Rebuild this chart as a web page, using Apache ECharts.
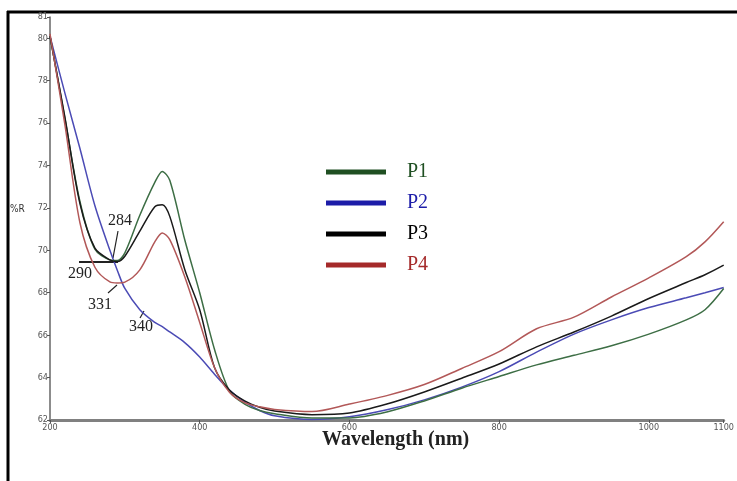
<!DOCTYPE html>
<html>
<head>
<meta charset="utf-8">
<script src="https://cdn.jsdelivr.net/npm/echarts@6/dist/echarts.min.js"></script>
<style>
  html, body { margin: 0; padding: 0; background: #fff; }
  #chart { width: 737px; height: 481px; }
</style>
</head>
<body>
<div id="chart"></div>
<script>
// wavelengths (nm) shared by all curves
var wl = [200, 220, 240, 260, 280, 290, 300, 320, 340, 350, 360, 380, 400, 420, 440, 460, 480, 500,
          550, 600, 650, 700, 750, 800, 850, 900, 950, 1000, 1050, 1075, 1100];

// %R
var p1 = [80.1, 76.2, 72.3, 70.05, 69.55, 69.52, 69.88, 71.65, 73.2, 73.72, 73.3, 70.5, 68.0, 65.3, 63.35, 62.75, 62.45, 62.3,
          62.1, 62.1, 62.38, 62.9, 63.5, 64.05, 64.6, 65.05, 65.5, 66.05, 66.72, 67.2, 68.2];
var p2 = [80.1, 77.4, 74.8, 72.1, 70.0, 69.05, 68.2, 67.2, 66.6, 66.4, 66.15, 65.65, 64.97, 64.15, 63.4, 62.85, 62.45, 62.2,
          62.02, 62.15, 62.48, 62.95, 63.55, 64.28, 65.2, 66.05, 66.72, 67.3, 67.76, 68.0, 68.25];
var p3 = [80.1, 76.25, 72.2, 70.1, 69.55, 69.47, 69.72, 70.9, 72.05, 72.15, 71.6, 69.1, 67.2, 64.45, 63.4, 62.9, 62.6, 62.42,
          62.25, 62.33, 62.75, 63.32, 63.97, 64.64, 65.45, 66.15, 66.9, 67.73, 68.48, 68.85, 69.3];
var p4 = [80.2, 75.9, 71.3, 69.2, 68.51, 68.46, 68.5, 69.08, 70.4, 70.82, 70.5, 68.75, 66.6, 64.45, 63.3, 62.82, 62.62, 62.5,
          62.4, 62.75, 63.15, 63.67, 64.43, 65.22, 66.3, 66.85, 67.8, 68.7, 69.7, 70.4, 71.35];

var names = ['P1', 'P2', 'P3', 'P4'];
var lineColors = ['#3d6e45', '#4b4bb5', '#1a1a1a', '#b25858'];
var legendColors = ['#1f4f22', '#1c1ca8', '#000000', '#a52a2a'];

function pairs(ys) {
    var out = [];
    for (var i = 0; i < wl.length; i++) {
        out.push([wl[i], ys[i]]);
    }
    return out;
}

var myChart = echarts.init(document.getElementById('chart'));

var serif = '"Liberation Serif", "DejaVu Serif", serif';
var small = '"DejaVu Sans Condensed", "DejaVu Sans", sans-serif';

var option = {
    animation: false,
    backgroundColor: '#fff',
    grid: { left: 50, right: 12, top: 17, bottom: 61 },
    legend: {
        orient: 'vertical',
        left: 326,
        top: 162,
        padding: 0,
        itemWidth: 60,
        itemHeight: 5,
        itemGap: 11,
        icon: 'rect',
        data: names.map(function (n, i) {
            return {
                name: n,
                itemStyle: { color: legendColors[i] },
                textStyle: { color: legendColors[i] }
            };
        }),
        textStyle: {
            fontFamily: serif,
            fontSize: 20,
            lineHeight: 20,
            padding: [0, 0, 0, 16]
        }
    },
    xAxis: {
        type: 'value',
        min: 200,
        max: 1100,
        interval: 200,
        axisLine: { lineStyle: { color: '#808080', width: 3 } },
        axisTick: { show: true, length: 3, lineStyle: { color: '#555', width: 1 } },
        axisLabel: {
            color: '#555', fontSize: 9, margin: 3, fontFamily: small,
            formatter: function (v) { return String(v); }
        },
        splitLine: { show: false }
    },
    yAxis: {
        type: 'value',
        min: 62,
        max: 81,
        interval: 2,
        axisLine: { show: true, lineStyle: { color: '#666', width: 1.5 } },
        axisTick: { show: true, length: 3, lineStyle: { color: '#555', width: 1 } },
        axisLabel: { color: '#555', fontSize: 9, margin: 2, fontFamily: small },
        splitLine: { show: false }
    },
    series: [p2, p1, p3, p4].map(function (ys, k) {
        var idx = [1, 0, 2, 3][k];
        return {
            name: names[idx],
            type: 'line',
            data: pairs(ys),
            showSymbol: false,
            smooth: 0.3,
            color: lineColors[idx],
            lineStyle: { width: 1.5 }
        };
    }),
    graphic: [
        // outer frame (top and left)
        { type: 'line', shape: { x1: 7, y1: 12, x2: 737, y2: 12 }, style: { stroke: '#000', lineWidth: 3 } },
        { type: 'line', shape: { x1: 8, y1: 11, x2: 8, y2: 481 }, style: { stroke: '#000', lineWidth: 3 } },
        // axis titles
        { type: 'text', left: 10, top: 204, style: { text: '%R', fontSize: 10, fill: '#333', fontFamily: small } },
        { type: 'text', left: 322, top: 430, style: { text: 'Wavelength (nm)', fontSize: 20, fontWeight: 'bold', fill: '#222', fontFamily: serif } },
        // wavelength callouts
        { type: 'text', left: 108, top: 213, style: { text: '284', fontSize: 16, fill: '#222', fontFamily: serif } },
        { type: 'line', shape: { x1: 118, y1: 231, x2: 113, y2: 258 }, style: { stroke: '#222', lineWidth: 1.2 } },
        { type: 'text', left: 68, top: 266, style: { text: '290', fontSize: 16, fill: '#222', fontFamily: serif } },
        { type: 'line', shape: { x1: 79, y1: 262, x2: 118, y2: 262 }, style: { stroke: '#222', lineWidth: 2 } },
        { type: 'text', left: 88, top: 297, style: { text: '331', fontSize: 16, fill: '#222', fontFamily: serif } },
        { type: 'line', shape: { x1: 108, y1: 293, x2: 117, y2: 285 }, style: { stroke: '#222', lineWidth: 1.2 } },
        { type: 'text', left: 129, top: 319, style: { text: '340', fontSize: 16, fill: '#222', fontFamily: serif } },
        { type: 'line', shape: { x1: 140, y1: 318, x2: 144, y2: 311 }, style: { stroke: '#222', lineWidth: 1.2 } }
    ]
};

myChart.setOption(option);
</script>
</body>
</html>
